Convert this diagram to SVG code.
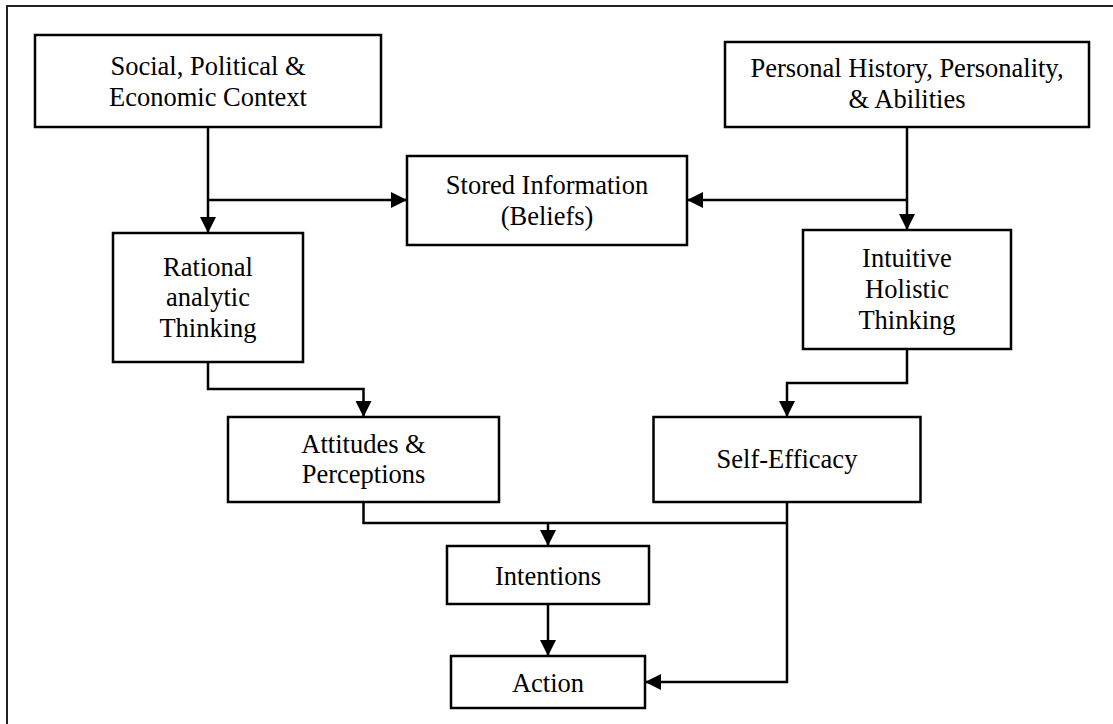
<svg xmlns="http://www.w3.org/2000/svg" width="1113" height="724" viewBox="0 0 1113 724">
<style>
.box{fill:#fff;stroke:#000;stroke-width:2.5}
.t{font-family:"Liberation Serif","Times New Roman",serif;font-size:26.5px;fill:#000;text-anchor:middle}
.c{fill:none;stroke:#000;stroke-width:2.5}
.frame{fill:none;stroke:#222;stroke-width:2}
</style>
<defs>
<marker id="ah" markerUnits="userSpaceOnUse" markerWidth="16" markerHeight="16" viewBox="0 0 15 15" refX="15" refY="7.5" orient="auto">
<path d="M0,0 L15,7.5 L0,15 Z" fill="#000"/>
</marker>
</defs>
<rect width="1113" height="724" fill="#fff"/>
<path class="frame" d="M7,724 V6 H1113"/>
<g id="connectors">
<path class="c" d="M208,127 V233" marker-end="url(#ah)"/>
<path class="c" d="M208,200 H407" marker-end="url(#ah)"/>
<path class="c" d="M907,127 V230" marker-end="url(#ah)"/>
<path class="c" d="M907,200 H687" marker-end="url(#ah)"/>
<path class="c" d="M208,362 V389 H363.5 V417" marker-end="url(#ah)"/>
<path class="c" d="M907,349 V383 H787 V417" marker-end="url(#ah)"/>
<path class="c" d="M363.5,502 V523 H787"/>
<path class="c" d="M787,502 V682 H645" marker-end="url(#ah)"/>
<path class="c" d="M548,523 V546" marker-end="url(#ah)"/>
<path class="c" d="M548,604 V656" marker-end="url(#ah)"/>
</g>
<g id="social">
<rect class="box" x="35" y="35" width="346" height="92"/>
<text class="t" x="208" y="75">Social, Political &amp;</text>
<text class="t" x="208" y="106">Economic Context</text>
</g>
<g id="personal">
<rect class="box" x="725" y="42" width="364" height="85"/>
<text class="t" x="907" y="77">Personal History, Personality,</text>
<text class="t" x="907" y="108">&amp; Abilities</text>
</g>
<g id="stored">
<rect class="box" x="407" y="156" width="280" height="89"/>
<text class="t" x="547" y="194">Stored Information</text>
<text class="t" x="547" y="225">(Beliefs)</text>
</g>
<g id="rational">
<rect class="box" x="113" y="233" width="190" height="129"/>
<text class="t" x="208" y="276">Rational</text>
<text class="t" x="208" y="306">analytic</text>
<text class="t" x="208" y="337">Thinking</text>
</g>
<g id="intuitive">
<rect class="box" x="803" y="230" width="208" height="119"/>
<text class="t" x="907" y="267">Intuitive</text>
<text class="t" x="907" y="298">Holistic</text>
<text class="t" x="907" y="329">Thinking</text>
</g>
<g id="attitudes">
<rect class="box" x="228" y="417" width="271" height="85"/>
<text class="t" x="363.5" y="453">Attitudes &amp;</text>
<text class="t" x="363.5" y="483">Perceptions</text>
</g>
<g id="selfefficacy">
<rect class="box" x="653.5" y="417" width="267" height="85"/>
<text class="t" x="787" y="468">Self-Efficacy</text>
</g>
<g id="intentions">
<rect class="box" x="447" y="546" width="202" height="58"/>
<text class="t" x="548" y="585">Intentions</text>
</g>
<g id="action">
<rect class="box" x="451" y="656" width="194" height="52"/>
<text class="t" x="548" y="692">Action</text>
</g>
</svg>
